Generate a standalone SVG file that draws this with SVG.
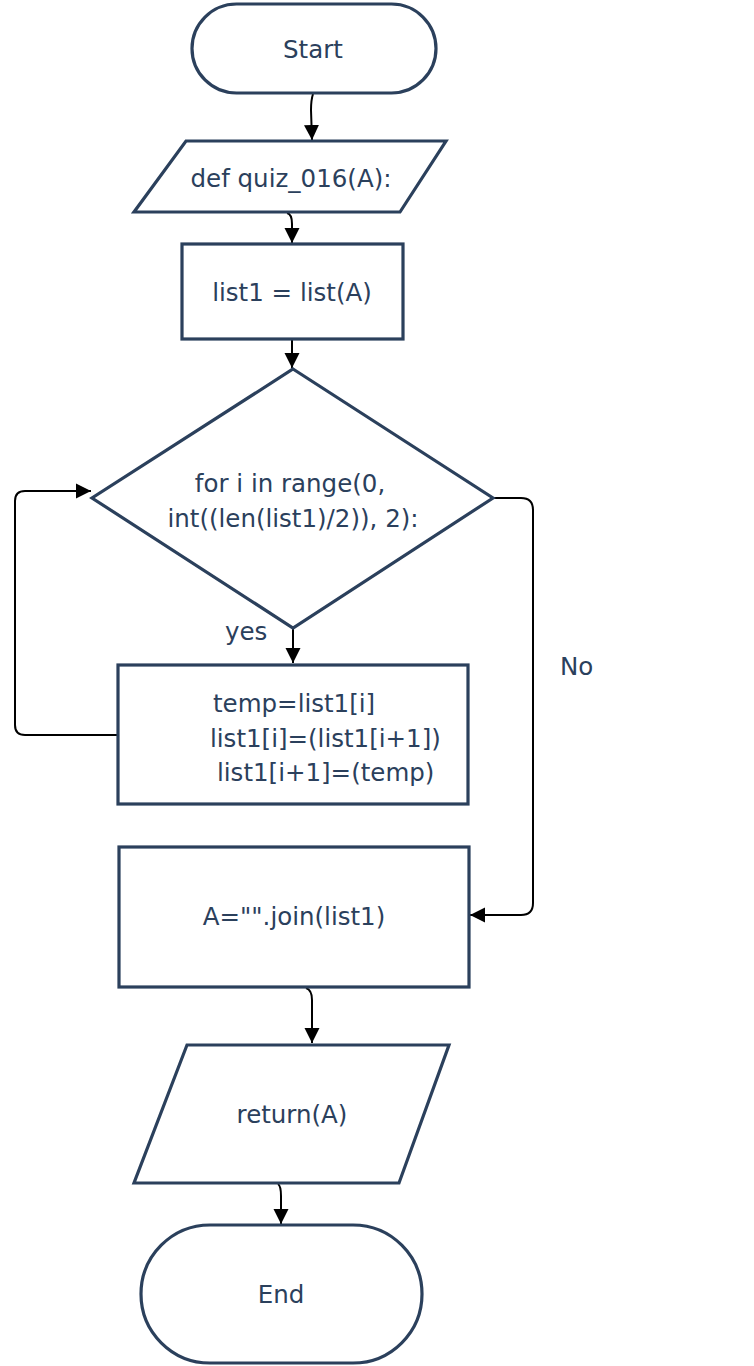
<svg xmlns="http://www.w3.org/2000/svg" width="754" height="1366" viewBox="0 0 754 1366">
<defs>
<marker id="arr" markerWidth="16" markerHeight="16" refX="15" refY="8" orient="auto" markerUnits="userSpaceOnUse">
<path d="M0,0.5 L15,8 L0,15.5 Z" fill="#000"/>
</marker>
<style>
.s{fill:#fff;stroke:#2b405c;stroke-width:3.2}
.t{font-family:"DejaVu Sans","Liberation Sans",sans-serif;font-size:24.5px;fill:#2b405c}
.c{fill:none;stroke:#000;stroke-width:2;marker-end:url(#arr)}
.m{text-anchor:middle}
</style>
</defs>
<rect width="754" height="1366" fill="#fff"/>
<g id="connectors">
<path class="c" d="M313,94 Q311,100 311,110 L312,140"/>
<path class="c" d="M287,213 Q292,214 292,224 L292,243"/>
<path class="c" d="M292,340 L292,368"/>
<path class="c" d="M293,629 L293,663"/>
<path class="c" d="M117,735 L25,735 Q15,735 15,725 L15,501 Q15,491 25,491 L91,491"/>
<path class="c" d="M493,498 L521,498 Q533,498 533,510 L533,903 Q533,915 521,915 L470,915"/>
<path class="c" d="M306,988 Q312,990 312,1000 L312,1043"/>
<path class="c" d="M278,1184 Q281,1186 281,1196 L281,1224"/>
</g>
<g id="start">
<rect class="s" x="192" y="4" width="244" height="89" rx="44.5"/>
<text class="t m" x="313" y="58">Start</text>
</g>
<g id="def">
<polygon class="s" points="186,141 446,141 400,212 134,212"/>
<text class="t m" x="291" y="187">def quiz_016(A):</text>
</g>
<g id="list1">
<rect class="s" x="182" y="244" width="221" height="95"/>
<text class="t m" x="292" y="301">list1 = list(A)</text>
</g>
<g id="loop">
<polygon class="s" points="293,369 493,498 293,628 92,498"/>
<text class="t m" x="290" y="492">for i in range(0,</text>
<text class="t m" x="293" y="527">int((len(list1)/2)), 2):</text>
</g>
<text class="t" x="225" y="640">yes</text>
<text class="t" x="560" y="675">No</text>
<g id="swap">
<rect class="s" x="118" y="665" width="350" height="139"/>
<text class="t" x="213" y="712">temp=list1[i]</text>
<text class="t" x="210" y="747">list1[i]=(list1[i+1])</text>
<text class="t" x="217" y="781">list1[i+1]=(temp)</text>
</g>
<g id="join">
<rect class="s" x="119" y="847" width="350" height="140"/>
<text class="t m" x="294" y="925">A="".join(list1)</text>
</g>
<g id="return">
<polygon class="s" points="187,1045 449,1045 399,1183 134,1183"/>
<text class="t m" x="292" y="1123">return(A)</text>
</g>
<g id="end">
<rect class="s" x="141" y="1225" width="281" height="138" rx="69"/>
<text class="t m" x="281" y="1303">End</text>
</g>
</svg>
